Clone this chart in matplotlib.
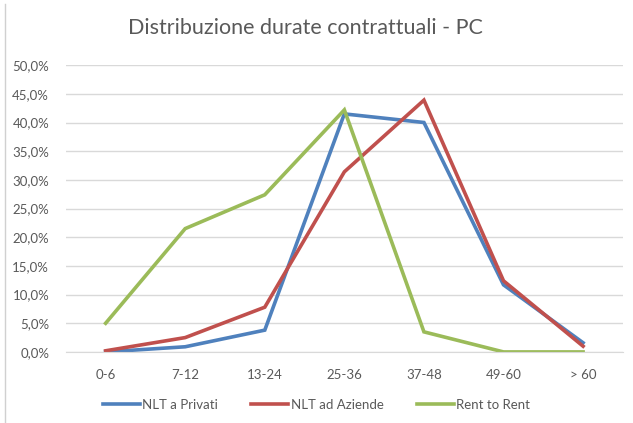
import matplotlib
matplotlib.use("Agg")
import matplotlib.pyplot as plt
from matplotlib.ticker import FuncFormatter
from matplotlib.lines import Line2D

categories = ["0-6", "7-12", "13-24", "25-36", "37-48", "49-60", "> 60"]
nlt_privati = [0.0, 0.9, 3.8, 41.5, 40.0, 11.7, 1.6]
nlt_aziende = [0.2, 2.5, 7.8, 31.4, 43.9, 12.4, 1.0]
rent_to_rent = [5.0, 21.5, 27.4, 42.2, 3.5, 0.0, 0.0]

series = [
    ("NLT a Privati", nlt_privati, "#4F81BD"),
    ("NLT ad Aziende", nlt_aziende, "#C0504D"),
    ("Rent to Rent", rent_to_rent, "#9BBB59"),
]

plt.rcParams["font.family"] = ["Lato", "DejaVu Sans"]
grey = "#595959"

fig = plt.figure(figsize=(6.33, 4.23), dpi=100)
ax = fig.add_axes([0.104, 0.168, 0.88, 0.678])

x = range(len(categories))
for name, vals, col in series:
    ax.plot(x, vals, color=col, linewidth=2.6, label=name, solid_joinstyle="miter")

ax.set_xlim(-0.5, len(categories) - 0.5)
ax.set_ylim(0, 50)
ax.set_yticks(range(0, 51, 5))
ax.yaxis.set_major_formatter(FuncFormatter(lambda v, p: f"{v:.1f}%".replace(".", ",")))
ax.set_xticks(list(x))
ax.set_xticklabels(categories)

ax.grid(axis="y", color="#D9D9D9", linewidth=1)
ax.set_axisbelow(True)
for s in ["top", "right", "left"]:
    ax.spines[s].set_visible(False)
ax.spines["bottom"].set_color("#D9D9D9")
ax.tick_params(length=0, colors=grey, labelsize=9.5)
ax.tick_params(axis="x", pad=12)
ax.tick_params(axis="y", pad=12)

fig.suptitle("Distribuzione durate contrattuali - PC", x=0.482, y=0.958,
             fontsize=15.5, color=grey)

fig.legend(loc="center", bbox_to_anchor=(0.5, 0.043), ncol=3, frameon=False,
           fontsize=9.5, labelcolor=grey, handlelength=2.8, handletextpad=0.2,
           columnspacing=2.5)

# thin window border on the left, as in the screenshot
fig.add_artist(Line2D([0.008, 0.008], [0, 0.99], color="#D0D0D0", linewidth=1))

fig.savefig("out.png", dpi=100, facecolor="white")
